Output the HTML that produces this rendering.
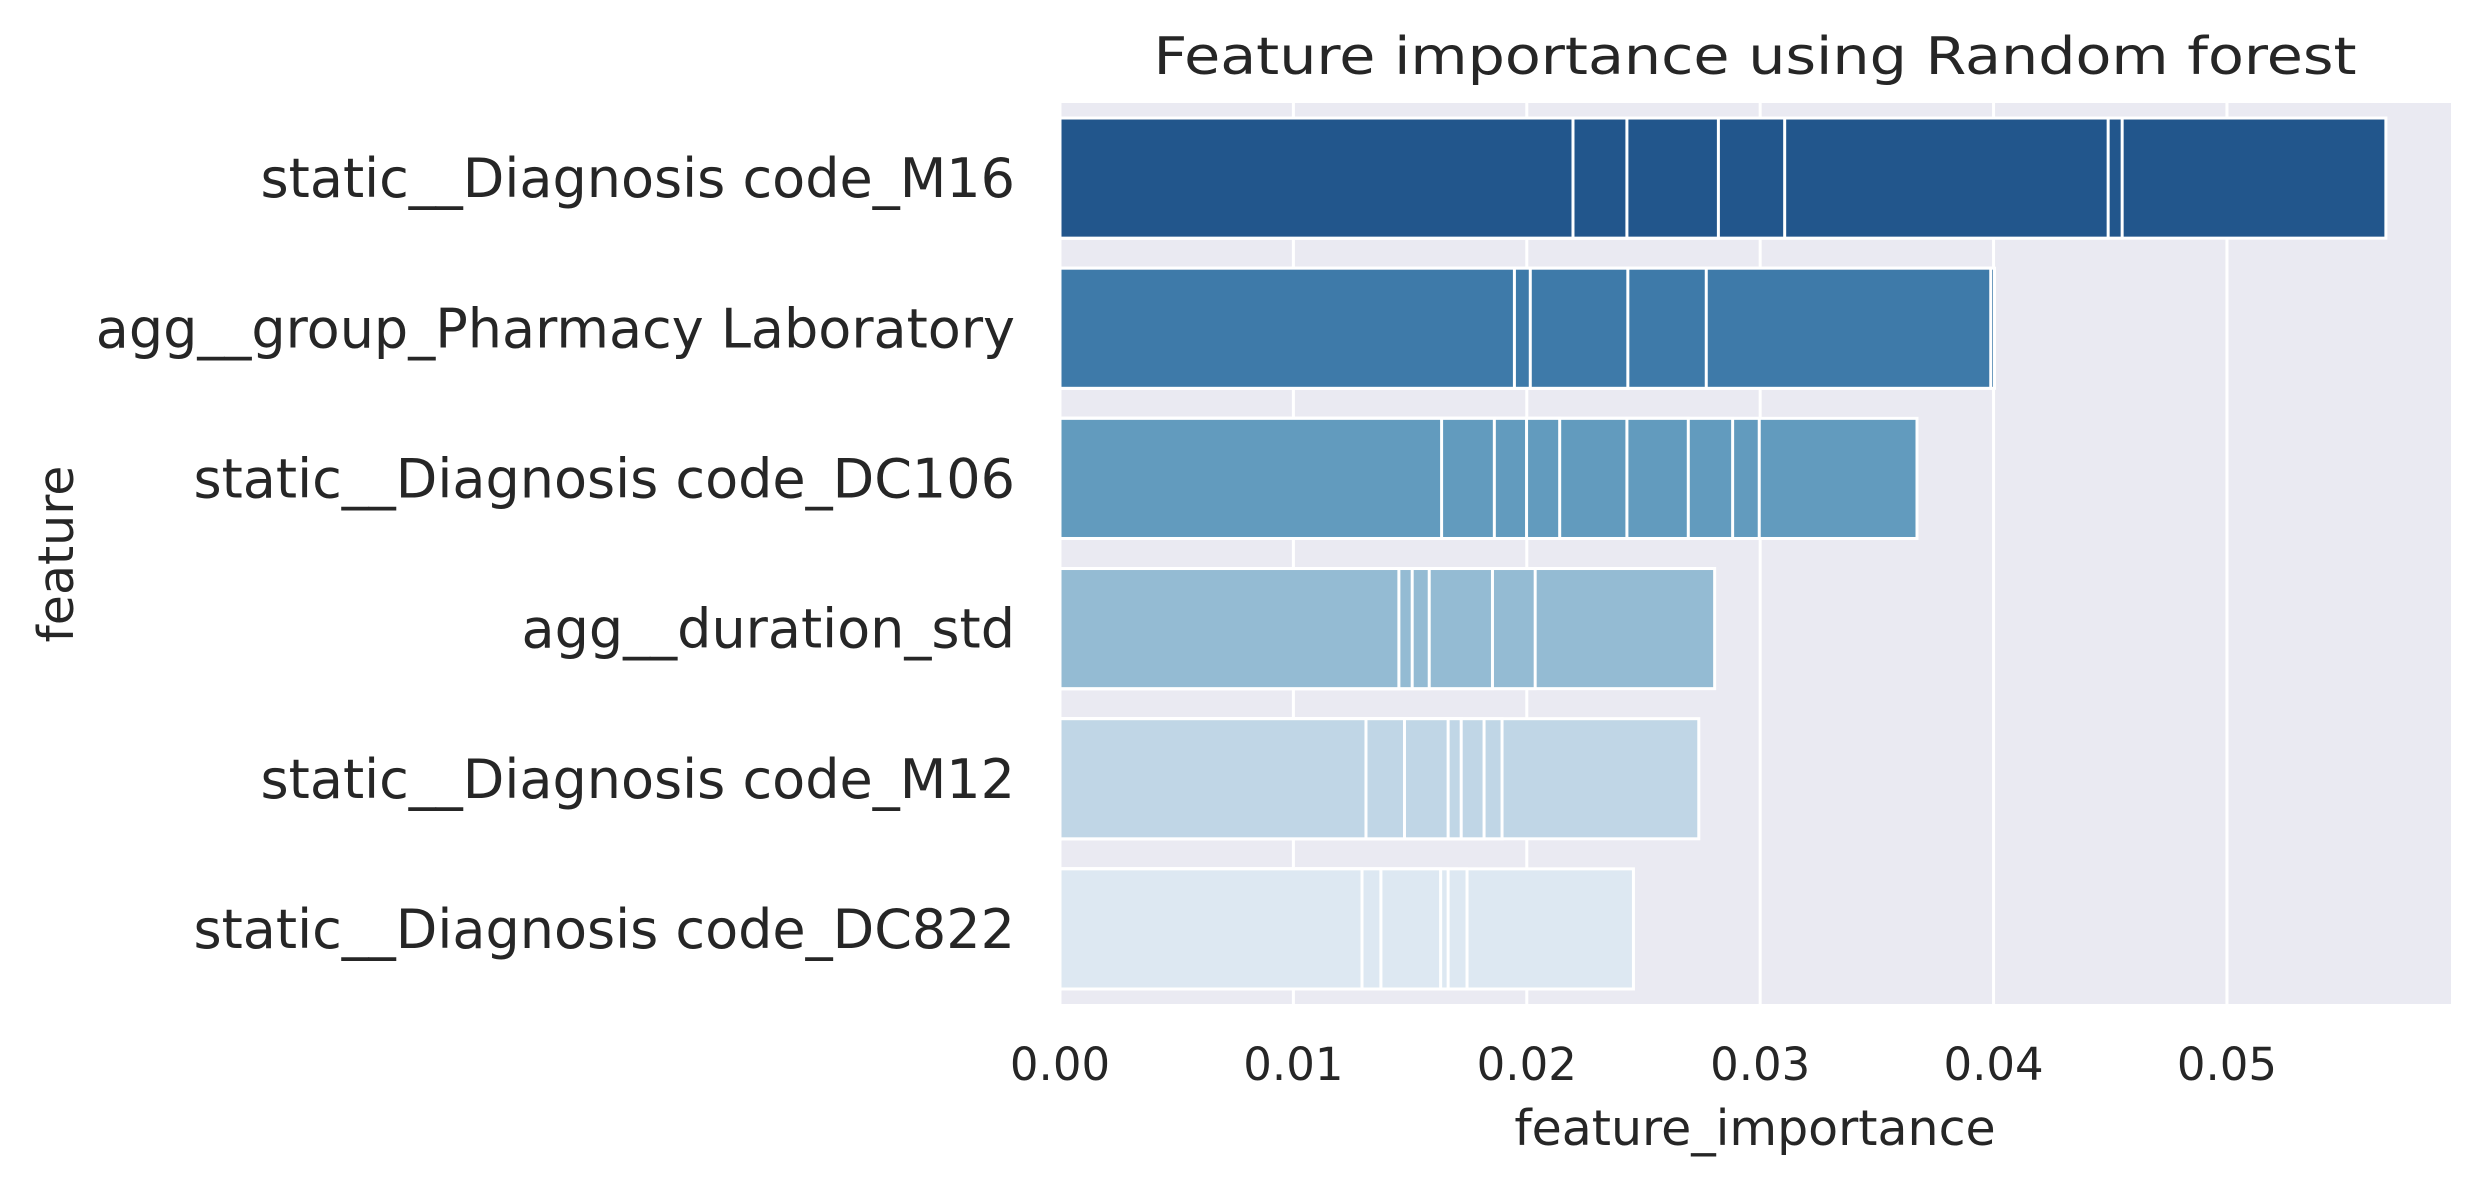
<!DOCTYPE html>
<html><head><meta charset="utf-8"><style>
html,body{margin:0;padding:0;background:#fff}
svg{display:block}
text{font-family:"DejaVu Sans","Liberation Sans",sans-serif;fill:#262626}
</style></head><body>
<svg id="chart" width="2482" height="1187" viewBox="0 0 2482 1187" xmlns="http://www.w3.org/2000/svg">
<rect x="1060" y="103" width="1391" height="901" fill="#eaeaf2"/>
<g id="grid"></g>
<g id="bars"></g>
<g id="ticks"></g>
<g id="cats"></g>
<text x="1755" y="74" text-anchor="middle" font-size="52" textLength="1203" lengthAdjust="spacingAndGlyphs">Feature importance using Random forest</text>
<text x="1755" y="1145" text-anchor="middle" font-size="49">feature_importance</text>
<text x="0" y="0" text-anchor="middle" font-size="49" transform="translate(73,554) rotate(-90)">feature</text>
</svg>
<script>
const categories = ["static__Diagnosis code_M16","agg__group_Pharmacy Laboratory","static__Diagnosis code_DC106","agg__duration_std","static__Diagnosis code_M12","static__Diagnosis code_DC822"];
const valuesM16 = [0.02198,0.02429,0.02821,0.03105,0.04491,0.04551,0.05681];
const valuesPharm = [0.01947,0.02015,0.02433,0.02769,0.03988,0.04004];
const valuesDC106 = [0.01635,0.01861,0.01999,0.02141,0.02429,0.02692,0.02882,0.02996,0.03672];
const valuesDur = [0.01452,0.01509,0.01582,0.01853,0.02036,0.02805];
const valuesM12 = [0.01311,0.01476,0.01663,0.01719,0.01817,0.01894,0.02737];
const valuesDC822 = [0.01294,0.01375,0.01631,0.01663,0.01744,0.02457];
const series = [valuesM16,valuesPharm,valuesDC106,valuesDur,valuesM12,valuesDC822];
const colors = ["#22568c","#3e7aa9","#629bbe","#94bbd3","#c0d6e6","#dde8f2"];
const ticks = [0,0.01,0.02,0.03,0.04,0.05];
const tickLabels = ["0.00","0.01","0.02","0.03","0.04","0.05"];
const NS="http://www.w3.org/2000/svg";
const X0=1060,X1=2451,Y0=103,Y1=1004,XMAX=0.0596;
const x=v=>X0+v/XMAX*(X1-X0);
const band=(Y1-Y0)/categories.length;
const yc=i=>Y0+band*(i+0.5);
function mk(t,a,p){const e=document.createElementNS(NS,t);for(const k in a)e.setAttribute(k,a[k]);p.appendChild(e);return e;}
const grid=document.getElementById('grid'),bars=document.getElementById('bars'),tk=document.getElementById('ticks'),cg=document.getElementById('cats');
ticks.forEach((t,i)=>{
  const l=mk('line',{x1:x(t),x2:x(t),y1:Y0,y2:Y1,stroke:'#fff','stroke-width':3},grid);
  
  
  const tx=mk('text',{x:x(t),y:1080,'text-anchor':'middle','font-size':45},tk);
  tx.textContent=tickLabels[i];
  
  
});
categories.forEach((c,i)=>{
  const h=band*0.8, top=yc(i)-h/2;
  const vals=series[i].slice().sort((a,b)=>b-a);
  vals.forEach(v=>{
    const r=mk('rect',{x:x(0),y:top,width:x(v)-x(0),height:h,fill:colors[i],stroke:'#fff','stroke-width':3},bars);
    
    
  });
  const t=mk('text',{x:1015,y:yc(i)+19,'text-anchor':'end','font-size':54},cg);
  t.textContent=c;
  
  
});
</script>
</body></html>
